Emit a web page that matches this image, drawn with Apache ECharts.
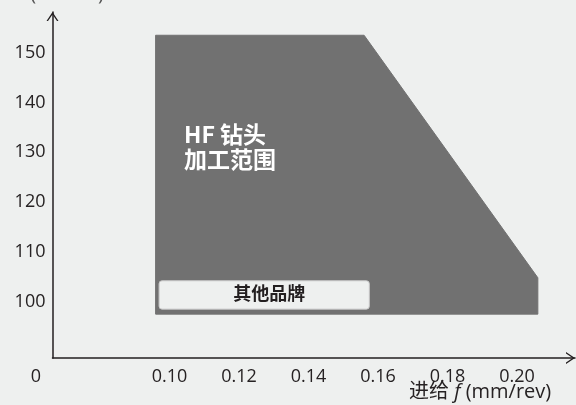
<!DOCTYPE html>
<html>
<head>
<meta charset="utf-8">
<script src="https://cdn.jsdelivr.net/npm/echarts@6/dist/echarts.min.js"></script>
<style>
html,body{margin:0;padding:0;background:#eef0ef;}
#chart{width:576px;height:405px;}
</style>
</head>
<body>
<div id="chart"></div>
<script>
// Feed ticks (mm/rev) and speed ticks (m/min)
const feedTicks = [0.10, 0.12, 0.14, 0.16, 0.18, 0.20];
const speedTicks = [100, 110, 120, 130, 140, 150];
// HF drill working range polygon vertices
const hfFeed = [0.096, 0.156, 0.206, 0.206, 0.096];
const hfSpeed = [153.5, 153.5, 104.8, 97.5, 97.5];
// Other brands range (rectangle: feed from/to, speed from/to)
const otherFeed = [0.097, 0.1575];
const otherSpeed = [98.5, 104.2];
const hfLabel = 'HF 钻头\n加工范围';
const otherLabel = '其他品牌';

const LATIN = "'Open Sans', 'Noto Sans CJK SC', sans-serif";
const CJK = "'Noto Sans CJK SC', 'Open Sans', sans-serif";
const chevron = 'path://M0,9 L6,0 L12,9 L10.5,9 L6,2.4 L1.5,9 Z';
const TXT = '#262223';

const chart = echarts.init(document.getElementById('chart'), null, {renderer: 'canvas'});
chart.setOption({
  backgroundColor: '#eef0ef',
  animation: false,
  grid: {left: 52.5, right: 1, top: 12, bottom: 47, outerBoundsMode: 'none', containLabel: false},
  xAxis: {
    type: 'value', min: 0.06633, max: 0.21669,
    splitLine: {show: false}, axisTick: {show: false},
    axisLine: {show: true, lineStyle: {color: '#231f20', width: 1.5},
      symbol: ['none', chevron], symbolSize: [12, 9], symbolOffset: [0, -4.5]},
    axisLabel: {customValues: feedTicks, formatter: v => v.toFixed(2),
      fontFamily: LATIN, fontSize: 18, color: TXT, margin: 10}
  },
  yAxis: {
    type: 'value', min: 88.69, max: 158.17,
    name: 'v (m/min)', nameGap: 8,
    nameTextStyle: {fontFamily: LATIN, fontSize: 20, color: '#555555', padding: [0, 0, 0, 14]},
    splitLine: {show: false}, axisTick: {show: false},
    axisLine: {show: true, lineStyle: {color: '#231f20', width: 1.5},
      symbol: ['none', chevron], symbolSize: [12, 9], symbolOffset: [0, -4.5]},
    axisLabel: {customValues: speedTicks, fontFamily: LATIN, fontSize: 18, color: TXT, margin: 7}
  },
  series: [
    {
      type: 'custom', clip: false, silent: true,
      data: [[hfFeed[0], hfSpeed[0]]],
      renderItem: function (params, api) {
        const pts = hfFeed.map((f, i) => api.coord([f, hfSpeed[i]]));
        return {
          type: 'polygon',
          shape: {points: pts},
          style: {fill: '#717171', stroke: '#717171', lineWidth: 1, lineJoin: 'round'}
        };
      },
      z: 1
    },
    {
      type: 'custom', clip: false, silent: true,
      data: [[otherFeed[0], otherSpeed[0]]],
      renderItem: function (params, api) {
        const p1 = api.coord([otherFeed[0], otherSpeed[1]]);
        const p2 = api.coord([otherFeed[1], otherSpeed[0]]);
        return {
          type: 'group',
          children: [{
            type: 'rect',
            shape: {x: p1[0], y: p1[1], width: p2[0] - p1[0], height: p2[1] - p1[1], r: 3},
            style: {fill: '#eef0ef', stroke: '#c8c8c8', lineWidth: 1}
          }, {
            type: 'text',
            style: {
              text: otherLabel, x: (p1[0] + p2[0]) / 2 + 5, y: (p1[1] + p2[1]) / 2 - 2,
              align: 'center', verticalAlign: 'middle',
              fontFamily: CJK, fontSize: 18, fontWeight: 'bold', fill: '#231f20'
            }
          }]
        };
      },
      z: 2
    }
  ],
  graphic: [
    {type: 'text', left: 184, top: 122, z: 10,
      style: {text: hfLabel, fontFamily: CJK, fontSize: 23, fontWeight: 'bold', lineHeight: 25, fill: '#ffffff'}},
    {type: 'text', x: 36, y: 377, z: 10,
      style: {text: '0', align: 'center', verticalAlign: 'middle', fontFamily: LATIN, fontSize: 18, fill: TXT}},
    {type: 'text', left: 409, top: 382, z: 10,
      style: {
        text: '{c|进给 }{i|f}{c| (mm/rev)}',
        rich: {
          c: {fontFamily: LATIN, fontSize: 20, fill: TXT, color: TXT},
          i: {fontFamily: LATIN, fontSize: 20, fontStyle: 'italic', fill: TXT, color: TXT}
        }
      }}
  ]
});
</script>
</body>
</html>
